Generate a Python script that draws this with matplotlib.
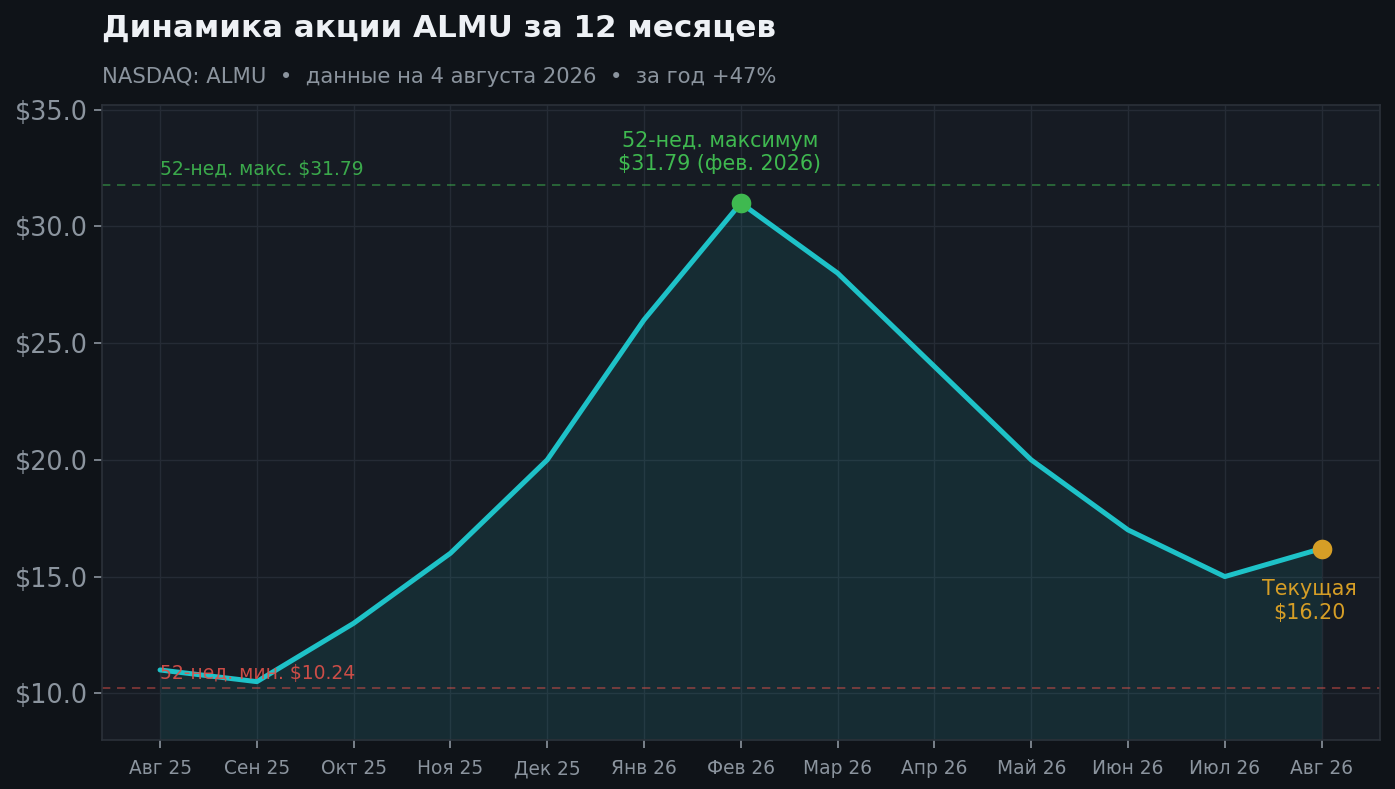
import matplotlib
matplotlib.use("Agg")
import matplotlib.pyplot as plt

plt.rcParams["font.family"] = ["DejaVu Sans"]

months = ["Авг 25", "Сен 25", "Окт 25", "Ноя 25", "Дек 25", "Янв 26", "Фев 26",
          "Мар 26", "Апр 26", "Май 26", "Июн 26", "Июл 26", "Авг 26"]
prices = [11.0, 10.5, 13.0, 16.0, 20.0, 26.0, 31.0, 28.0, 24.0, 20.0, 17.0, 15.0, 16.2]
high_52w = 31.79
low_52w = 10.24
yticks = [10.0, 15.0, 20.0, 25.0, 30.0, 35.0]

FIG_BG = "#0f1318"
AX_BG = "#161b23"
LINE = "#1ec2c8"
GREEN = "#3fb950"
RED = "#e0514a"
ORANGE = "#d69e26"
MUTED = "#8b949e"

fig = plt.figure(figsize=(13.95, 7.89), dpi=100, facecolor=FIG_BG)
ax = fig.add_axes([0.0731, 0.0621, 0.9159, 0.8048])
ax.set_facecolor(AX_BG)

x = list(range(len(months)))
ax.fill_between(x, prices, 0, color=LINE, alpha=0.10, linewidth=0)
ax.plot(x, prices, color=LINE, linewidth=3.6, solid_capstyle="round", zorder=3)

ax.axhline(high_52w, color=GREEN, linestyle=(0, (5, 4)), linewidth=1.2, alpha=0.55)
ax.axhline(low_52w, color=RED, linestyle=(0, (5, 4)), linewidth=1.2, alpha=0.55)

ax.text(0, high_52w + 0.25, f"52-нед. макс. ${high_52w:.2f}", color=GREEN,
        fontsize=13.5, ha="left", va="bottom", alpha=0.9)
ax.text(0, low_52w + 0.22, f"52-нед. мин. ${low_52w:.2f}", color=RED,
        fontsize=13.5, ha="left", va="bottom", alpha=0.9)

imax = prices.index(max(prices))
ax.scatter([imax], [prices[imax]], s=200, color=GREEN, zorder=5, linewidths=0)
ax.annotate(f"52-нед. максимум\n${high_52w:.2f} (фев. 2026)",
            xy=(imax, prices[imax]), xytext=(-15, 21), textcoords="offset points",
            ha="center", va="bottom", color=GREEN, fontsize=14.9, linespacing=1.2)

ilast = len(prices) - 1
ax.scatter([ilast], [prices[ilast]], s=200, color=ORANGE, zorder=5, linewidths=0)
ax.annotate(f"Текущая\n${prices[ilast]:.2f}",
            xy=(ilast, prices[ilast]), xytext=(-9, -22), textcoords="offset points",
            ha="center", va="top", color=ORANGE, fontsize=14.9, linespacing=1.25)

ax.set_xlim(-0.6, 12.6)
ax.set_ylim(8.0, 35.2)
ax.set_xticks(x)
ax.set_xticklabels(months)
ax.set_yticks(yticks)
ax.set_yticklabels([f"${v:.1f}" for v in yticks])
ax.tick_params(axis="x", colors=MUTED, labelsize=13.4, length=6, width=1.2, pad=8)
ax.tick_params(axis="y", colors=MUTED, labelsize=18.4, length=6, width=1.2, pad=4)
for lab in ax.get_xticklabels() + ax.get_yticklabels():
    lab.set_color(MUTED)

ax.grid(True, color="#252b35", linewidth=1.0)
ax.set_axisbelow(True)
for s in ax.spines.values():
    s.set_color("#2b3139")
    s.set_linewidth(1.2)

fig.text(0.0731, 0.964, "Динамика акции ALMU за 12 месяцев", color="#eef1f5",
         fontsize=22.3, fontweight="bold", ha="left", va="center")
fig.text(0.0731, 0.902, "NASDAQ: ALMU  •  данные на 4 августа 2026  •  за год +47%",
         color=MUTED, fontsize=15.2, ha="left", va="center")

fig.savefig("out.png", dpi=100, facecolor=FIG_BG)
